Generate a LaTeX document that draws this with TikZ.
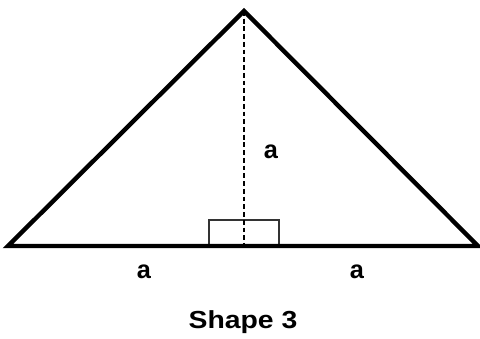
\documentclass[tikz,border=0pt]{standalone}
\usepackage{fontspec}
\setmainfont{Liberation Sans}
\usetikzlibrary{positioning,calc}
\tikzset{
  side/.style={line width=3.3pt, black},
  alt/.style={line width=1.1pt, dash pattern=on 3.6pt off 2.2pt},
  rbox/.style={line width=0.8pt, black!80},
  lab/.style={font=\bfseries\fontsize{19}{22}\selectfont, inner sep=0pt, anchor=base},
  title/.style={font=\bfseries\fontsize{18.5}{22}\selectfont, inner sep=0pt, anchor=base},
}
\begin{document}
\begin{tikzpicture}[x=0.75pt,y=-0.75pt]
        \useasboundingbox (0,0) rectangle (480,339);
        \coordinate (T) at (244,11);
        \coordinate (L) at (8,246);
        \coordinate (R) at (478,246);
        \coordinate (F) at (244,246);
        \draw[rbox] (209,220) rectangle (279,246);
        \draw[alt] (T) -- (F);
        \draw[side] (L) -- (T) -- (R) -- cycle;
        \node[lab] (h)  at (271,159) {a};
        \node[lab] (bl) at (144,278) {a};
        \node[lab] (br) at (357,278) {a};
        \node[title] (cap) at (243,329) {\scalebox{1.15}[1]{Shape 3}};
      \end{tikzpicture}
\end{document}
